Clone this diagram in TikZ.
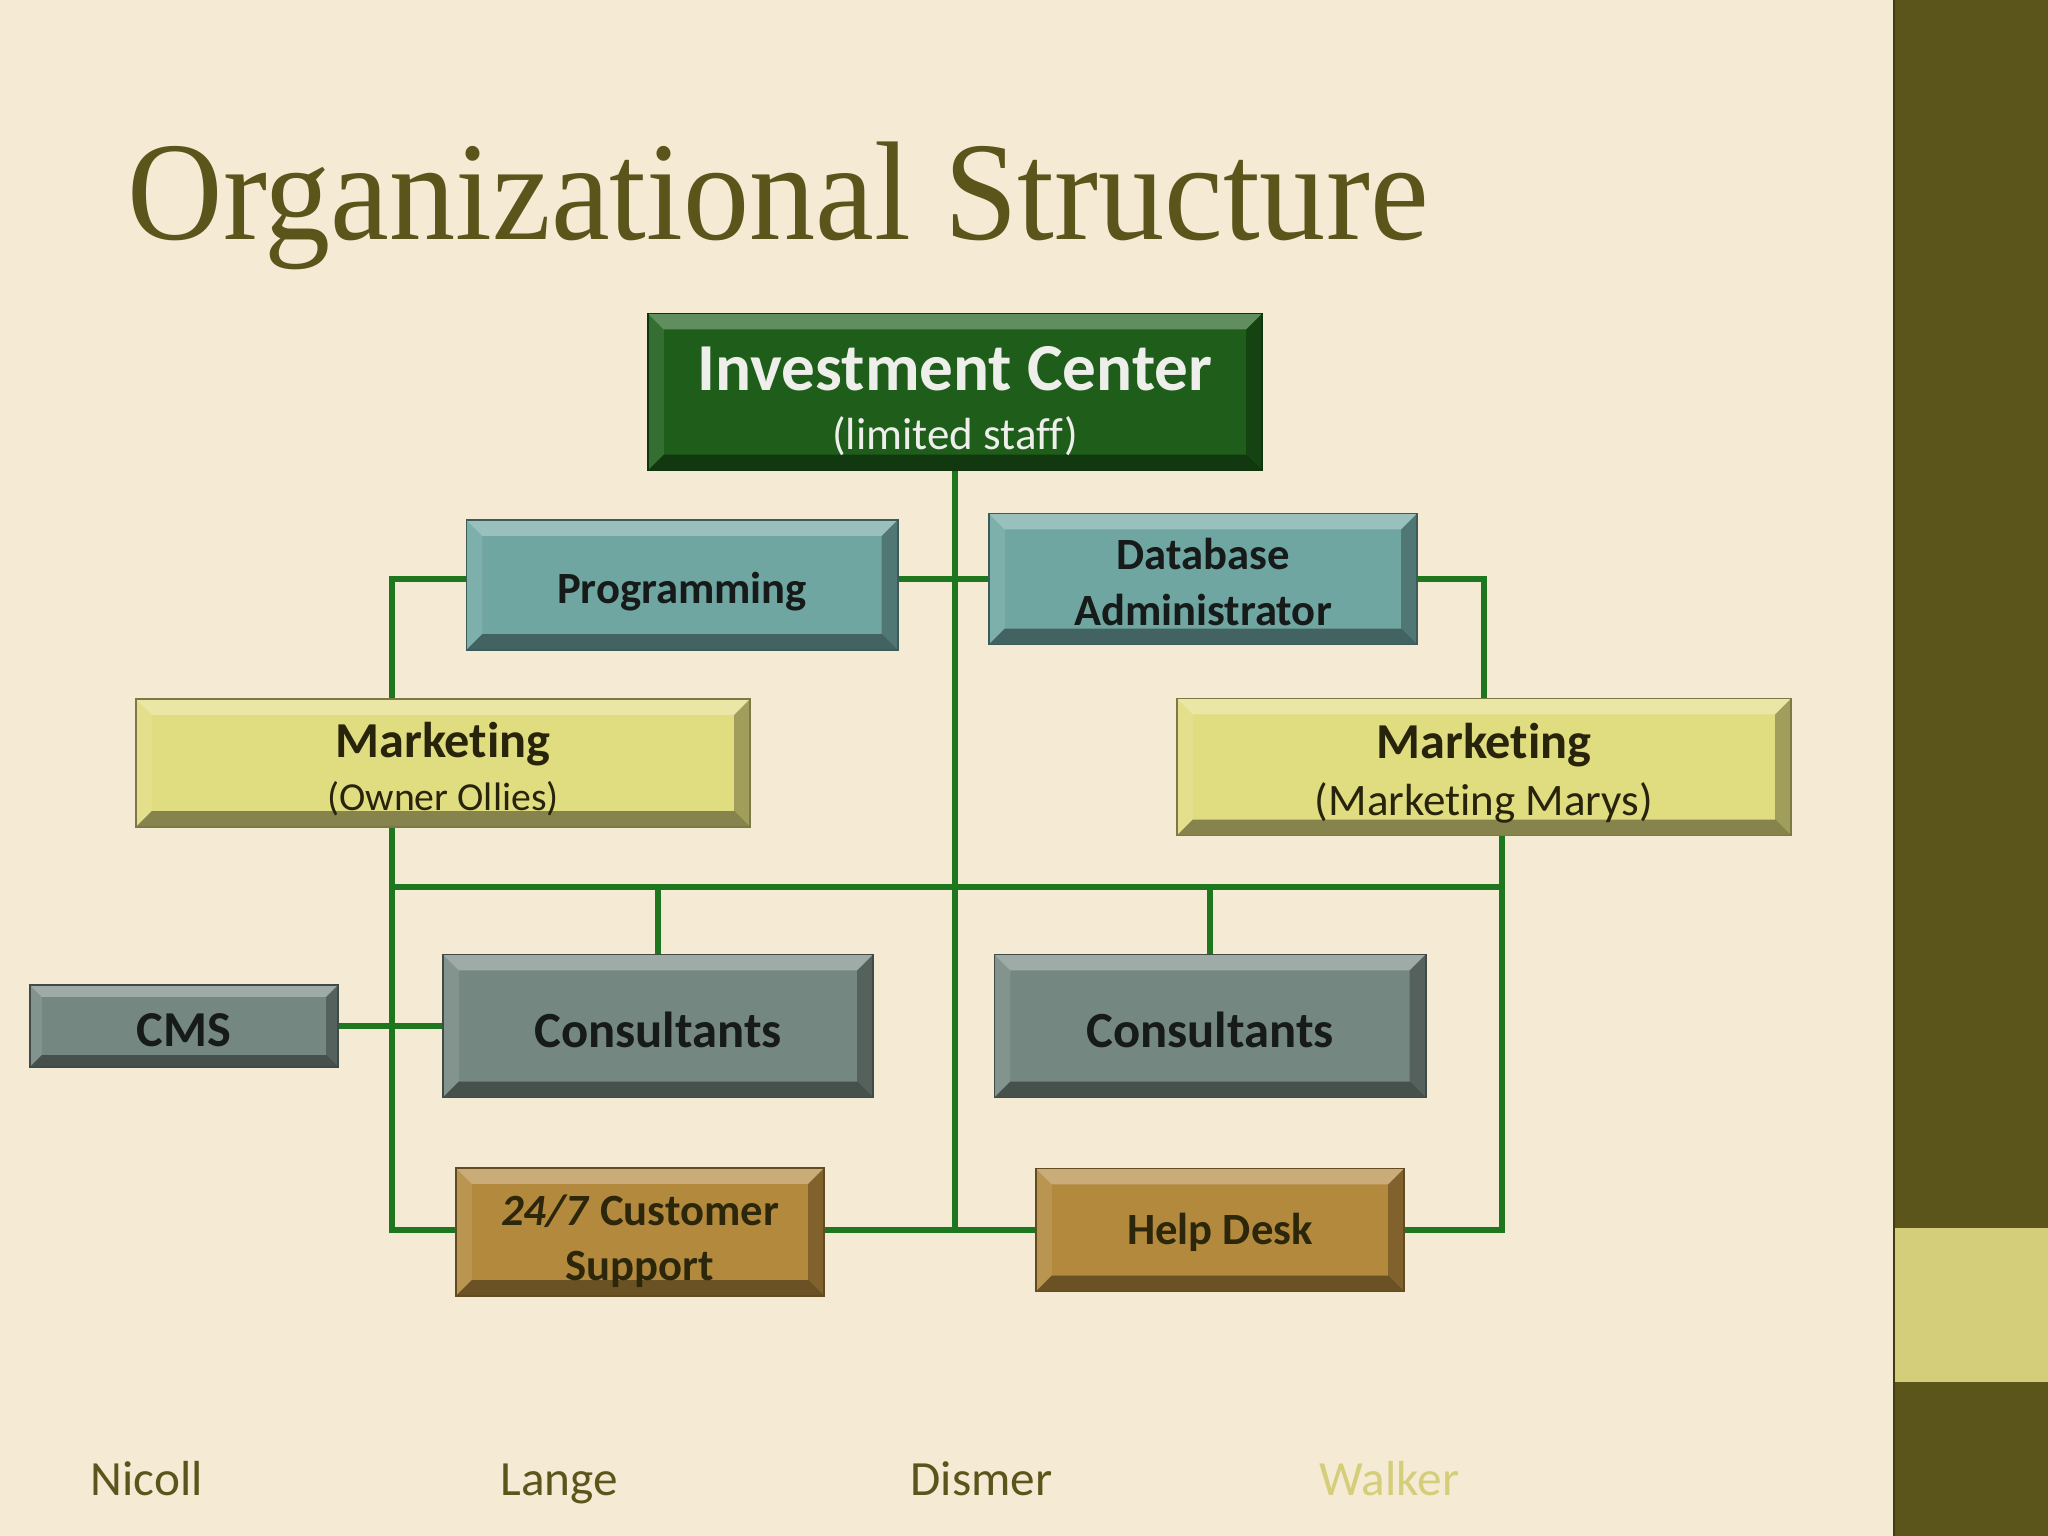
\documentclass[tikz,border=0pt]{standalone}
\usepackage{fontspec}
\setmainfont{Carlito}[Ligatures={NoCommon}]
\newfontfamily\titlefont{Liberation Serif}
\usetikzlibrary{calc}
\definecolor{bgc}{RGB}{245,234,212}
\definecolor{olive}{RGB}{92,85,27}
\definecolor{lightolive}{RGB}{212,206,122}
\definecolor{lnk}{RGB}{30,118,30}
\definecolor{icg}{RGB}{30,94,26}
\definecolor{tealc}{RGB}{111,166,162}
\definecolor{yelc}{RGB}{224,220,128}
\definecolor{gryc}{RGB}{117,135,129}
\definecolor{brzc}{RGB}{179,137,62}
\definecolor{icText}{RGB}{238,238,235}
\definecolor{darkText}{RGB}{22,26,24}
\definecolor{yelText}{RGB}{40,36,12}
\definecolor{brzText}{RGB}{44,38,10}
\pgfdeclarelayer{bgl}
\pgfdeclarelayer{lnl}
\pgfsetlayers{bgl,lnl,main}
\newlength\bv
\setlength\bv{0.16cm}
\tikzset{
  bevelbox/.style={rectangle, inner sep=0pt, fill=#1, draw=#1!55!black, line width=0.5pt,
    path picture={
      \coordinate (bnw) at (path picture bounding box.north west);
      \coordinate (bse) at (path picture bounding box.south east);
      \coordinate (bne) at (bse |- bnw);
      \coordinate (bsw) at (bnw |- bse);
      \fill[white,opacity=.30] (bnw) -- (bne) -- ([shift={(-\bv,-\bv)}]bne) -- ([shift={(\bv,-\bv)}]bnw) -- cycle;
      \fill[white,opacity=.10] (bnw) -- (bsw) -- ([shift={(\bv,\bv)}]bsw) -- ([shift={(\bv,-\bv)}]bnw) -- cycle;
      \fill[black,opacity=.28] (bne) -- (bse) -- ([shift={(-\bv,\bv)}]bse) -- ([shift={(-\bv,-\bv)}]bne) -- cycle;
      \fill[black,opacity=.40] (bsw) -- (bse) -- ([shift={(-\bv,\bv)}]bse) -- ([shift={(\bv,\bv)}]bsw) -- cycle;
    }},
  boxtext/.style={align=center, inner sep=0pt},
  conn/.style={draw=lnk, line width=1.8pt},
  footname/.style={anchor=base west, inner sep=0pt, font=\fontsize{14}{16}\selectfont},
}
% name, fill, text options, position, width, height, text shift down, text
\newcommand\mkbox[8]{%
  \node[bevelbox=#2, minimum width=#5, minimum height=#6] (#1) at (#4) {};
  \node[boxtext, #3] (#1t) at ([yshift=-#7]#1.center) {#8};
}
\begin{document}
\begin{tikzpicture}[x=0.01cm,y=-0.01cm]
\useasboundingbox (0,0) rectangle (2048,1536);
\begin{pgfonlayer}{bgl}
  \fill[bgc] (0,0) rectangle (2048,1536);
  \fill[olive] (1894,0) rectangle (2048,1536);
  \fill[lightolive] (1894,1228) rectangle (2048,1382);
  \draw[olive!70!black, line width=0.4pt] (1894,0) -- (1894,1536);
\end{pgfonlayer}

\node[anchor=base west, inner sep=0pt, text=olive] (title) at (127,239)
  {\titlefont\fontsize{40}{48}\selectfont\scalebox{0.94}[1]{Organizational Structure}};

\mkbox{ic}{icg}{text=icText}{955,392}{6.14cm}{1.57cm}{2.6pt}
  {\fontsize{19.1}{17}\selectfont\bfseries Investment Center\\[5pt]
   \fontsize{12.8}{15}\selectfont (limited staff)}

\mkbox{prog}{tealc}{text=darkText, font=\fontsize{12.7}{15.6}\selectfont\bfseries}{682,585}{4.31cm}{1.30cm}{1.9pt}
  {Programming}
\mkbox{dba}{tealc}{text=darkText, font=\fontsize{12.7}{16}\selectfont\bfseries}{1203,579}{4.28cm}{1.31cm}{0.9pt}
  {Database\\Administrator}

\mkbox{mktO}{yelc}{text=yelText}{443,763}{6.14cm}{1.28cm}{1.7pt}
  {\fontsize{14.3}{14}\selectfont\bfseries Marketing\\[3pt]
   \fontsize{11.3}{13}\selectfont (Owner Ollies)}
\mkbox{mktM}{yelc}{text=yelText}{1484,767}{6.14cm}{1.37cm}{1.7pt}
  {\fontsize{14.3}{15.6}\selectfont\bfseries Marketing\\[4.1pt]
   \fontsize{12.8}{15}\selectfont (Marketing Marys)}

\begingroup
\setlength\bv{0.12cm}
\mkbox{cms}{gryc}{text=darkText, font=\fontsize{14.3}{16}\selectfont\bfseries}{184,1026}{3.08cm}{0.82cm}{1.1pt}
  {CMS}
\endgroup
\mkbox{consL}{gryc}{text=darkText, font=\fontsize{14.4}{16}\selectfont\bfseries}{658,1026}{4.30cm}{1.43cm}{1.1pt}
  {Consultants}
\mkbox{consR}{gryc}{text=darkText, font=\fontsize{14.4}{16}\selectfont\bfseries}{1210,1026}{4.31cm}{1.43cm}{1.1pt}
  {Consultants}

\mkbox{cust}{brzc}{text=brzText, font=\fontsize{12.7}{15.4}\selectfont\bfseries}{640,1232}{3.68cm}{1.28cm}{2.6pt}
  {\textit{24/7} Customer\\Support}
\mkbox{help}{brzc}{text=brzText, font=\fontsize{12.7}{15.2}\selectfont\bfseries}{1220,1230}{3.68cm}{1.23cm}{0.7pt}
  {Help Desk}

\coordinate (L) at (392,887);
\coordinate (R) at (1502,887);
\coordinate (H) at (956,887);

\begin{pgfonlayer}{lnl}
  \draw[conn] (ic.south) -- (ic.south |- help.west);
  \draw[conn] (prog.east |- dba.west) -- (dba.west);
  \draw[conn] (prog.west |- dba.west) -- (L |- dba.west) -- (L |- help.west) -- (cust.west |- help.west);
  \draw[conn] (dba.east) -- (mktM.north |- dba.east) -- (mktM.north);
  \draw[conn] (R |- mktM.south) -- (R |- help.east) -- (help.east);
  \draw[conn] (L) -- (R);
  \draw[conn] (consL.north) -- (consL.north |- H);
  \draw[conn] (consR.north) -- (consR.north |- H);
  \draw[conn] (cms.east) -- (consL.west);
  \draw[conn] (cust.east |- help.west) -- (help.west);
\end{pgfonlayer}

\node[footname, text=olive] (n1) at (90,1495) {Nicoll};
\node[footname, text=olive] (n2) at (500,1495) {Lange};
\node[footname, text=olive] (n3) at (910,1495) {Dismer};
\node[footname, text=lightolive] (n4) at (1319,1495) {Walker};
\end{tikzpicture}
\end{document}
